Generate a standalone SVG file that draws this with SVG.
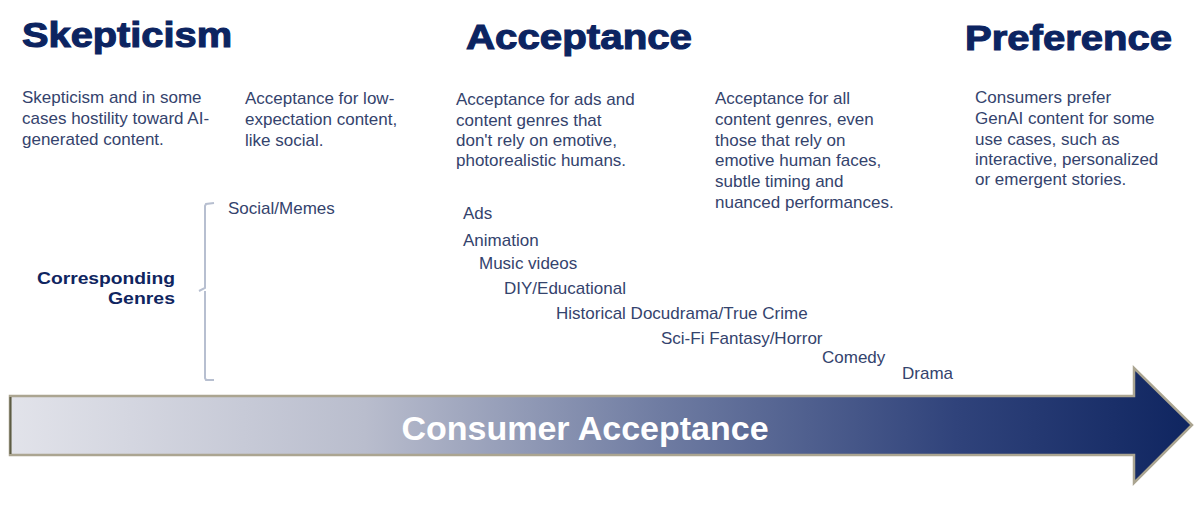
<svg xmlns="http://www.w3.org/2000/svg" width="1200" height="505" viewBox="0 0 1200 505">
<defs>
<linearGradient id="g" x1="10" y1="0" x2="1192" y2="0" gradientUnits="userSpaceOnUse">
<stop offset="0" stop-color="#e2e3ea"/>
<stop offset="0.3" stop-color="#b9bdcd"/>
<stop offset="0.55" stop-color="#6f7ca2"/>
<stop offset="0.8" stop-color="#30437b"/>
<stop offset="1" stop-color="#0f2560"/>
</linearGradient>
<style>
.title{font-family:"Liberation Sans",Arial,sans-serif;font-weight:bold;font-size:35px;fill:#0c2461;stroke:#0c2461;stroke-width:1.1}
.desc{font-family:"Liberation Sans",Arial,sans-serif;font-size:17px;fill:#34436d}
.genre{font-family:"Liberation Sans",Arial,sans-serif;font-size:17px;fill:#34436d}
.lbl{font-family:"Liberation Sans",Arial,sans-serif;font-weight:bold;font-size:17px;fill:#0f2560}
.bracket{fill:none;stroke:#b7bfd0;stroke-width:2}
</style>
</defs>
<rect width="1200" height="505" fill="#ffffff"/>

<g id="stage-skepticism">
<text class="title" x="22" y="47" textLength="210" lengthAdjust="spacingAndGlyphs">Skepticism</text>
<text class="desc" x="22" y="103">Skepticism and in some</text>
<text class="desc" x="22" y="124">cases hostility toward AI-</text>
<text class="desc" x="22" y="145">generated content.</text>
</g>

<g id="stage-low-expectation">
<text class="desc" x="245" y="104">Acceptance for low-</text>
<text class="desc" x="245" y="125">expectation content,</text>
<text class="desc" x="245" y="146">like social.</text>
</g>

<g id="stage-acceptance">
<text class="title" x="466" y="49" textLength="226" lengthAdjust="spacingAndGlyphs">Acceptance</text>
<text class="desc" x="456" y="105">Acceptance for ads and</text>
<text class="desc" x="456" y="126">content genres that</text>
<text class="desc" x="456" y="146">don't rely on emotive,</text>
<text class="desc" x="456" y="166">photorealistic humans.</text>
</g>

<g id="stage-full-acceptance">
<text class="desc" x="715" y="104">Acceptance for all</text>
<text class="desc" x="715" y="125">content genres, even</text>
<text class="desc" x="715" y="146">those that rely on</text>
<text class="desc" x="715" y="166">emotive human faces,</text>
<text class="desc" x="715" y="187">subtle timing and</text>
<text class="desc" x="715" y="208">nuanced performances.</text>
</g>

<g id="stage-preference">
<text class="title" x="965" y="50" textLength="207" lengthAdjust="spacingAndGlyphs">Preference</text>
<text class="desc" x="975" y="103">Consumers prefer</text>
<text class="desc" x="975" y="124">GenAI content for some</text>
<text class="desc" x="975" y="145">use cases, such as</text>
<text class="desc" x="975" y="165">interactive, personalized</text>
<text class="desc" x="975" y="185">or emergent stories.</text>
</g>

<g id="corresponding-genres">
<text class="lbl" x="37" y="284" textLength="138" lengthAdjust="spacingAndGlyphs">Corresponding</text>
<text class="lbl" x="108" y="304" textLength="67" lengthAdjust="spacingAndGlyphs">Genres</text>
<path class="bracket" d="M214,203 L206,204 L205,206 L205,288 L199,291 M205,291 L205,378 L206,380 L214,380"/>
</g>

<g id="genres">
<text class="genre" x="228" y="214">Social/Memes</text>
<text class="genre" x="463" y="219">Ads</text>
<text class="genre" x="463" y="246">Animation</text>
<text class="genre" x="479" y="269">Music videos</text>
<text class="genre" x="504" y="294">DIY/Educational</text>
<text class="genre" x="556" y="319">Historical Docudrama/True Crime</text>
<text class="genre" x="661" y="344">Sci-Fi Fantasy/Horror</text>
<text class="genre" x="822" y="363">Comedy</text>
<text class="genre" x="902" y="379">Drama</text>
</g>

<g id="connectors">
<g id="acceptance-arrow">
<polygon points="10,396 1134,396 1134,368 1192,425 1134,483 1134,455 10,455" fill="url(#g)" stroke="#aba591" stroke-width="2.5" stroke-linejoin="miter"/>
<line x1="10.5" y1="397" x2="10.5" y2="454" stroke="#5d5c44" stroke-width="2"/>
<text x="585" y="440" text-anchor="middle" font-family="'Liberation Sans',Arial,sans-serif" font-weight="bold" font-size="34" fill="#ffffff">Consumer Acceptance</text>
</g>
</g>
</svg>
